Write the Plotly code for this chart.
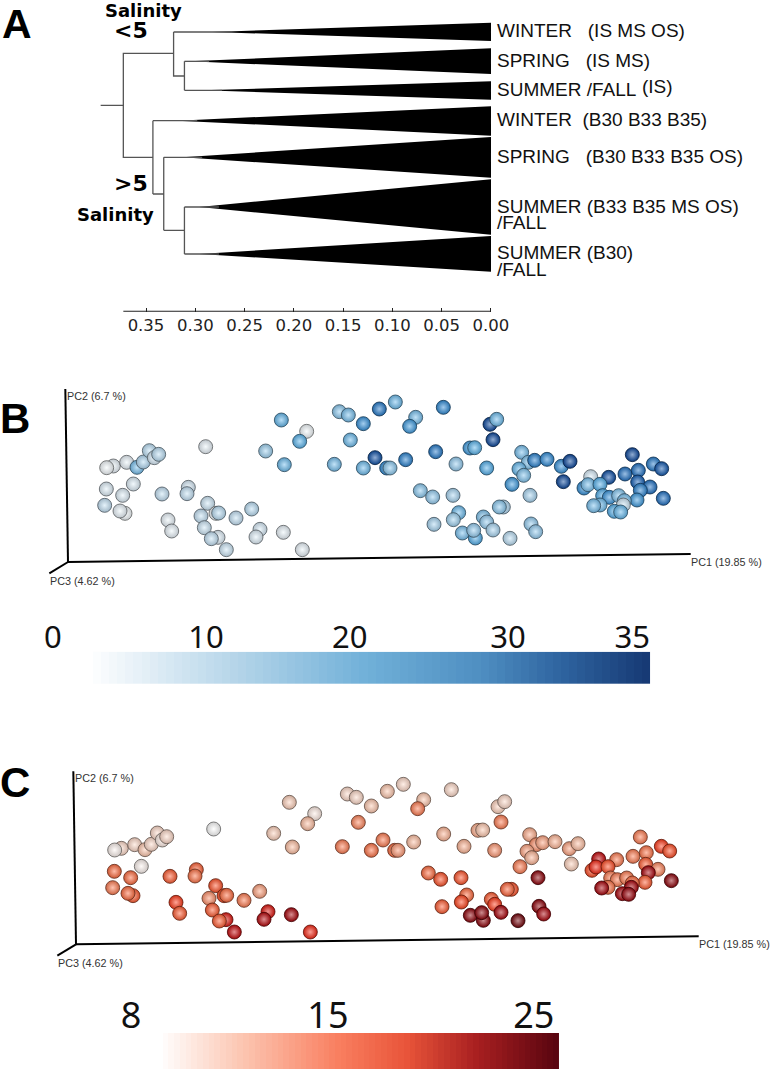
import numpy as np
import plotly.graph_objects as go

W, H = 771, 1074

# ---------- Panel A: dendrogram ----------
tick_vals = [0.35, 0.30, 0.25, 0.20, 0.15, 0.10, 0.05, 0.00]
root_x = 0.373
stub_x = 0.396
node_low = 0.322
node_low2 = 0.311
node_high = 0.343
node_high2 = 0.332
node_high3 = 0.311
# vertical position of branches in tree layout units (0 top .. 935 bottom)
leaf_y = [96, 184, 271, 362, 472, 621, 762]
leaf_top = [68, 145, 244, 319, 411, 538, 708]
leaf_bottom = [123, 222, 299, 407, 533, 704, 815]
leaf_parent = [node_low, node_low2, node_low2, node_high, node_high2, node_high3, node_high3]
leaf_apex = [0.283, 0.306, 0.293, 0.318, 0.313, 0.296, 0.296]
ruler_y = 935

leaf_text = ["WINTER\u00a0\u00a0\u00a0(IS MS OS)", "SPRING\u00a0\u00a0\u00a0(IS MS)", "SUMMER\u00a0/FALL",
             "(IS)", "WINTER\u00a0\u00a0(B30 B33 B35)", "SPRING\u00a0\u00a0\u00a0(B30 B33 B35 OS)",
             "SUMMER (B33 B35 MS OS)", "/FALL", "SUMMER (B30)", "/FALL"]
leaf_text_x = [-0.004, -0.004, -0.004, -0.151, -0.004, -0.004, -0.004, -0.004, -0.004, -0.004]
leaf_text_y = [92, 180, 268, 258, 358, 468, 618, 668, 758, 808]

# ---------- Panels B, C: PCoA scores (plot units) ----------
pc1 = [340, 320, 380, 411, 430, 448, 463, 476, 617, 400, 319, 368, 314, 375, 360, 486, 565, 561, 504, 515,
       623, 648, 656, 603, 708, 755, 613, 654, 634, 679, 780, 768, 850, 907, 844, 920, 899, 797, 853, 1018,
       1045, 1090, 1138, 1186, 1051, 1003, 1125, 1090, 1160, 1170,
       1247, 1229, 1330, 1217, 1307, 1368, 1410, 1424, 1470, 1490, 1479, 1460, 1565, 1585, 1604, 1641, 1557,
       1571, 1536, 1684, 1710, 1690, 1261, 1298, 1359, 1590, 1376, 1360, 1302, 1450, 1460, 1479, 1387, 1426,
       1421, 1530, 1510, 1498, 1593, 1607, 1897, 1875, 1915, 1960, 1985, 1913, 1950, 1921, 1911, 1990, 1826,
       1772, 1752, 1764, 1800, 1808, 1828, 1856, 1873, 1870, 1800, 1781, 1843, 1862]
pc2 = [348, 353, 337, 352, 336, 302, 323, 313, 290, 402, 417, 436, 466, 490, 483, 432, 412, 431, 510, 543,
       460, 490, 489, 498, 504, 477, 533, 562, 566, 599, 538, 561, 547, 599, 210, 244, 274, 303, 344, 185,
       195, 221, 177, 156, 270, 343, 323, 354, 354, 354,
       202, 229, 172, 329, 305, 342, 294, 293, 223, 208, 269, 354, 307, 337, 331, 328, 357,
       376, 403, 349, 334, 395, 422, 441, 436, 436, 488, 509, 523, 501, 516, 540, 549, 564,
       541, 565, 471, 471, 522, 545, 314, 372, 361, 342, 356, 396, 411, 421, 450, 445, 382,
       380, 414, 404, 403, 437, 442, 437, 452, 465, 465, 467, 484, 486]
salinity = [2, 1, 2, 14, 8, 7, 4, 7, 2, 3, 3, 3, 6, 1, 2, 6, 4, 6, 2, 2,
            5, 1, 7, 6, 6, 7, 5, 3, 6, 5, 4, 3, 2, 2, 16, 1, 17, 10, 15, 12,
            14, 24, 27, 15, 15, 14, 32, 15, 25, 12,
            14, 22, 25, 26, 27, 11, 22, 17, 33, 15, 33, 18, 14, 13, 26, 25, 16,
            13, 22, 24, 33, 33, 12, 11, 9, 9, 15, 10, 9, 13, 11, 9, 14, 18,
            11, 7, 8, 12, 11, 11, 33, 28, 28, 27, 31, 30, 28, 26, 22, 28, 32,
            4, 24, 14, 18, 18, 23, 13, 14, 5, 15, 14, 18, 16]
temperature = [10, 8.5, 10, 11, 10, 10, 9, 10, 8, 8.5, 16, 16, 15, 17, 16, 17, 16.5, 15.5, 19, 17,
               17.5, 18, 16, 14, 15, 13, 17, 21, 17, 22, 21, 22.5, 23, 20, 10.5, 9, 11.5, 10.5, 11.5, 10,
               10, 11, 11, 10, 14.5, 15, 15, 15.5, 16, 13.5,
               11, 15, 10, 11.5, 12, 12, 12.5, 11, 10.5, 10, 15, 13.5, 12.5, 14, 13, 12, 13,
               12, 15, 13, 11.5, 10.5, 16, 17.5, 17.5, 24, 16, 18.5, 17, 17, 19, 23, 24, 24,
               24, 25, 17.5, 16.5, 24, 23, 15, 15, 15.5, 19, 18, 17, 14.5, 23, 17, 24, 15,
               22, 18, 20, 18, 15, 15, 15, 16, 23, 15.5, 23, 23, 23.5]

axis_pc1 = [204, 2072]
axis_pc1_y = [636, 612]
axis_pc2 = [204, 196]
axis_pc2_y = [636, 117]
axis_pc3 = [204, 148]
axis_pc3_y = [636, 670]

# ---------- Colour bars ----------
sal_scale = [[0, '#ffffff'], [0.25, '#b9d7ea'], [0.5, '#70b0d8'], [0.7, '#4f8fc2'], [0.85, '#2e639f'], [1, '#173a75']]
tmp_scale = [[0, '#ffffff'], [0.2, '#fcc8b4'], [0.45, '#f97f60'], [0.62, '#e9553a'], [0.8, '#a81f20'], [1, '#5a0510']]
sal_range = [0, 35]
tmp_range = [8, 25]
sal_labels = ['0', '10', '20', '30', '35']
sal_label_at = [-2.0, 7.5, 16.4, 26.2, 33.9]
tmp_labels = ['8', '15', '25']
tmp_label_at = [6.9, 15.23, 23.94]


def to_rgb(h):
    h = h.lstrip('#')
    return np.array([int(h[i:i + 2], 16) for i in (0, 2, 4)], float)


def scale_colour(scale, t):
    pos = [s[0] for s in scale]
    rgb = np.array([to_rgb(s[1]) for s in scale])
    return np.array([np.interp(t, pos, rgb[:, k]) for k in range(3)])


def css(c):
    c = np.clip(c, 0, 255)
    return f'rgb({int(c[0])},{int(c[1])},{int(c[2])})'


def boost(c, f=1.45):
    g = c.mean()
    return np.clip(g + (c - g) * f, 0, 255)


def sphere_trace(values, vrange, scale, xa, ya):
    ts = (np.array(values, float) - vrange[0]) / (vrange[1] - vrange[0])
    base = [boost(scale_colour(scale, t)) for t in ts]
    return go.Scatter(
        x=pc1, y=pc2, mode='markers', xaxis=xa, yaxis=ya, hoverinfo='skip',
        marker=dict(size=14, color=[css(b * 0.8) for b in base],
                    gradient=dict(type='radial', color=[css(b + (255 - b) * 0.55) for b in base]),
                    line=dict(width=0.8, color=[css(b * 0.38) for b in base]), opacity=1))


def dx(a, b):
    return [a / W, b / W]


def dy(top, bottom):
    return [1 - bottom / H, 1 - top / H]


fig = go.Figure()

# Tree
tree_kw = dict(mode='lines', xaxis='x', yaxis='y', hoverinfo='skip')
for ap, yc, t, b in zip(leaf_apex, leaf_y, leaf_top, leaf_bottom):
    fig.add_trace(go.Scatter(x=[ap, 0, 0, ap], y=[yc, t, b, yc], fill='toself', fillcolor='black',
                             line=dict(width=0, color='black'), **tree_kw))
branch = dict(color='#555555', width=1.3)
for par, ap, yc in zip(leaf_parent, leaf_apex, leaf_y):
    fig.add_trace(go.Scatter(x=[par, ap - 0.02], y=[yc, yc], line=branch, **tree_kw))
y_high3 = 691
y_high2 = 582
y_high = 472
fig.add_trace(go.Scatter(x=[node_low, node_low, node_low2, node_low2, node_low2], y=[leaf_y[0], 228, 228, leaf_y[1], leaf_y[2]], line=branch, **tree_kw))
fig.add_trace(go.Scatter(x=[stub_x, root_x, root_x, node_low, node_low], y=[316, 316, 160, 160, 160], line=branch, **tree_kw))
fig.add_trace(go.Scatter(x=[root_x, root_x, node_high, node_high, node_high], y=[316, y_high, y_high, leaf_y[3], y_high2], line=branch, **tree_kw))
fig.add_trace(go.Scatter(x=[node_high, node_high2, node_high2, node_high2], y=[y_high2, y_high2, leaf_y[4], y_high3], line=branch, **tree_kw))
fig.add_trace(go.Scatter(x=[node_high2, node_high3, node_high3, node_high3], y=[y_high3, y_high3, leaf_y[5], leaf_y[6]], line=branch, **tree_kw))
fig.add_trace(go.Scatter(x=[root_x, 0], y=[ruler_y, ruler_y], line=dict(color='#222222', width=2), **tree_kw))

# Panels B and C
for xa, ya, vals, rng, scl in [('x2', 'y2', salinity, sal_range, sal_scale), ('x4', 'y4', temperature, tmp_range, tmp_scale)]:
    for ax, ay in [(axis_pc1, axis_pc1_y), (axis_pc2, axis_pc2_y), (axis_pc3, axis_pc3_y)]:
        fig.add_trace(go.Scatter(x=ax, y=ay, mode='lines', xaxis=xa, yaxis=ya, hoverinfo='skip',
                                 line=dict(color='black', width=2)))
    fig.add_trace(sphere_trace(vals, rng, scl, xa, ya))

# Colour bars
fig.add_trace(go.Heatmap(z=[np.linspace(sal_range[0], sal_range[1], 70)], x=np.linspace(sal_range[0], sal_range[1], 71),
                         y=[0, 1], zmin=sal_range[0], zmax=sal_range[1], colorscale=sal_scale, showscale=False,
                         xaxis='x3', yaxis='y3', hoverinfo='skip'))
fig.add_trace(go.Heatmap(z=[np.linspace(tmp_range[0], tmp_range[1], 70)], x=np.linspace(tmp_range[0], tmp_range[1], 71),
                         y=[0, 1], zmin=tmp_range[0], zmax=tmp_range[1], colorscale=tmp_scale, showscale=False,
                         xaxis='x5', yaxis='y5', hoverinfo='skip'))

hidden = dict(visible=False, showgrid=False, zeroline=False)
ann = []


def note(text, x, y, size, xref='x', yref='y', xanchor='left', bold=False, color='black', font='Liberation Sans'):
    ann.append(dict(text=f'<b>{text}</b>' if bold else text, x=x, y=y, xref=xref, yref=yref, showarrow=False,
                    xanchor=xanchor, yanchor='middle', align='left',
                    font=dict(family=font, size=size, color=color)))


for t, x, y in zip(leaf_text, leaf_text_x, leaf_text_y):
    note(t, x, y, 19, color='#111111')
note('Salinity', 0.3525, 31, 18, xanchor='center', bold=True, font='DejaVu Sans')
note('&lt;5', 0.365, 92, 22, xanchor='center', bold=True, font='DejaVu Sans')
note('&gt;5', 0.365, 550, 22, xanchor='center', bold=True, font='DejaVu Sans')
note('Salinity', 0.3805, 643, 18, xanchor='center', bold=True, font='DejaVu Sans')
for l, px, py, sz in [('A', 0, 24, 41), ('B', -2, 418, 42), ('C', -2, 782, 42)]:
    note(l, px / W, 1 - py / H, sz, xref='paper', yref='paper', bold=True)
for xr, yr in [('x2', 'y2'), ('x4', 'y4')]:
    note('PC2 (6.7 %)', 194, 137, 10.8, xr, yr, color='#333333')
    note('PC3 (4.62 %)', 144, 692, 10.8, xr, yr, color='#333333')
    note('PC1 (19.85 %)', 2066, 636, 10.8, xr, yr, color='#333333')

fig.update_layout(
    template='none',
    width=W, height=H, margin=dict(l=0, r=0, t=0, b=0, autoexpand=False), paper_bgcolor='white', plot_bgcolor='white',
    showlegend=False, annotations=ann,
    xaxis=dict(domain=dx(77, W), range=[0.42, -0.2841], tickvals=tick_vals, ticktext=[f'{v:.2f}' for v in tick_vals],
               ticks='inside', ticklen=4, tickwidth=1, tickcolor='#222222', showgrid=False, zeroline=False,
               showline=False, automargin=False, ticklabelstandoff=2,
               tickfont=dict(family='DejaVu Sans', size=16.5, color='#222222')),
    yaxis=dict(domain=dy(0, ruler_y / 3), range=[ruler_y, 0], **hidden),
    xaxis2=dict(domain=[0, 1], range=[0, 2313], **hidden),
    yaxis2=dict(domain=dy(360, 600), range=[750, 30], **hidden),
    xaxis3=dict(domain=dx(40, 660), range=[-2.79, 35.62], anchor='y3', side='top', tickvals=sal_label_at, ticktext=sal_labels,
                ticks='', showgrid=False, zeroline=False, showline=False, automargin=False, ticklabelstandoff=-3,
                tickfont=dict(family='Noto Sans', size=31, color='#111111')),
    yaxis3=dict(domain=dy(651.7, 684), range=[0, 1], **hidden),
    xaxis4=dict(domain=[0, 1], range=[-24, 2289], **hidden),
    yaxis4=dict(domain=dy(742.33, 982.33), range=[750, 30], **hidden),
    xaxis5=dict(domain=dx(100, 600), range=[5.59, 26.74], anchor='y5', side='top', tickvals=tmp_label_at, ticktext=tmp_labels,
                ticks='', showgrid=False, zeroline=False, showline=False, automargin=False, ticklabelstandoff=-3,
                tickfont=dict(family='Noto Sans', size=36, color='#111111')),
    yaxis5=dict(domain=dy(1033, 1069), range=[0, 1], **hidden),
)

fig.write_html('out.html', config={'displayModeBar': False}, post_script="document.body.style.margin='0';")
